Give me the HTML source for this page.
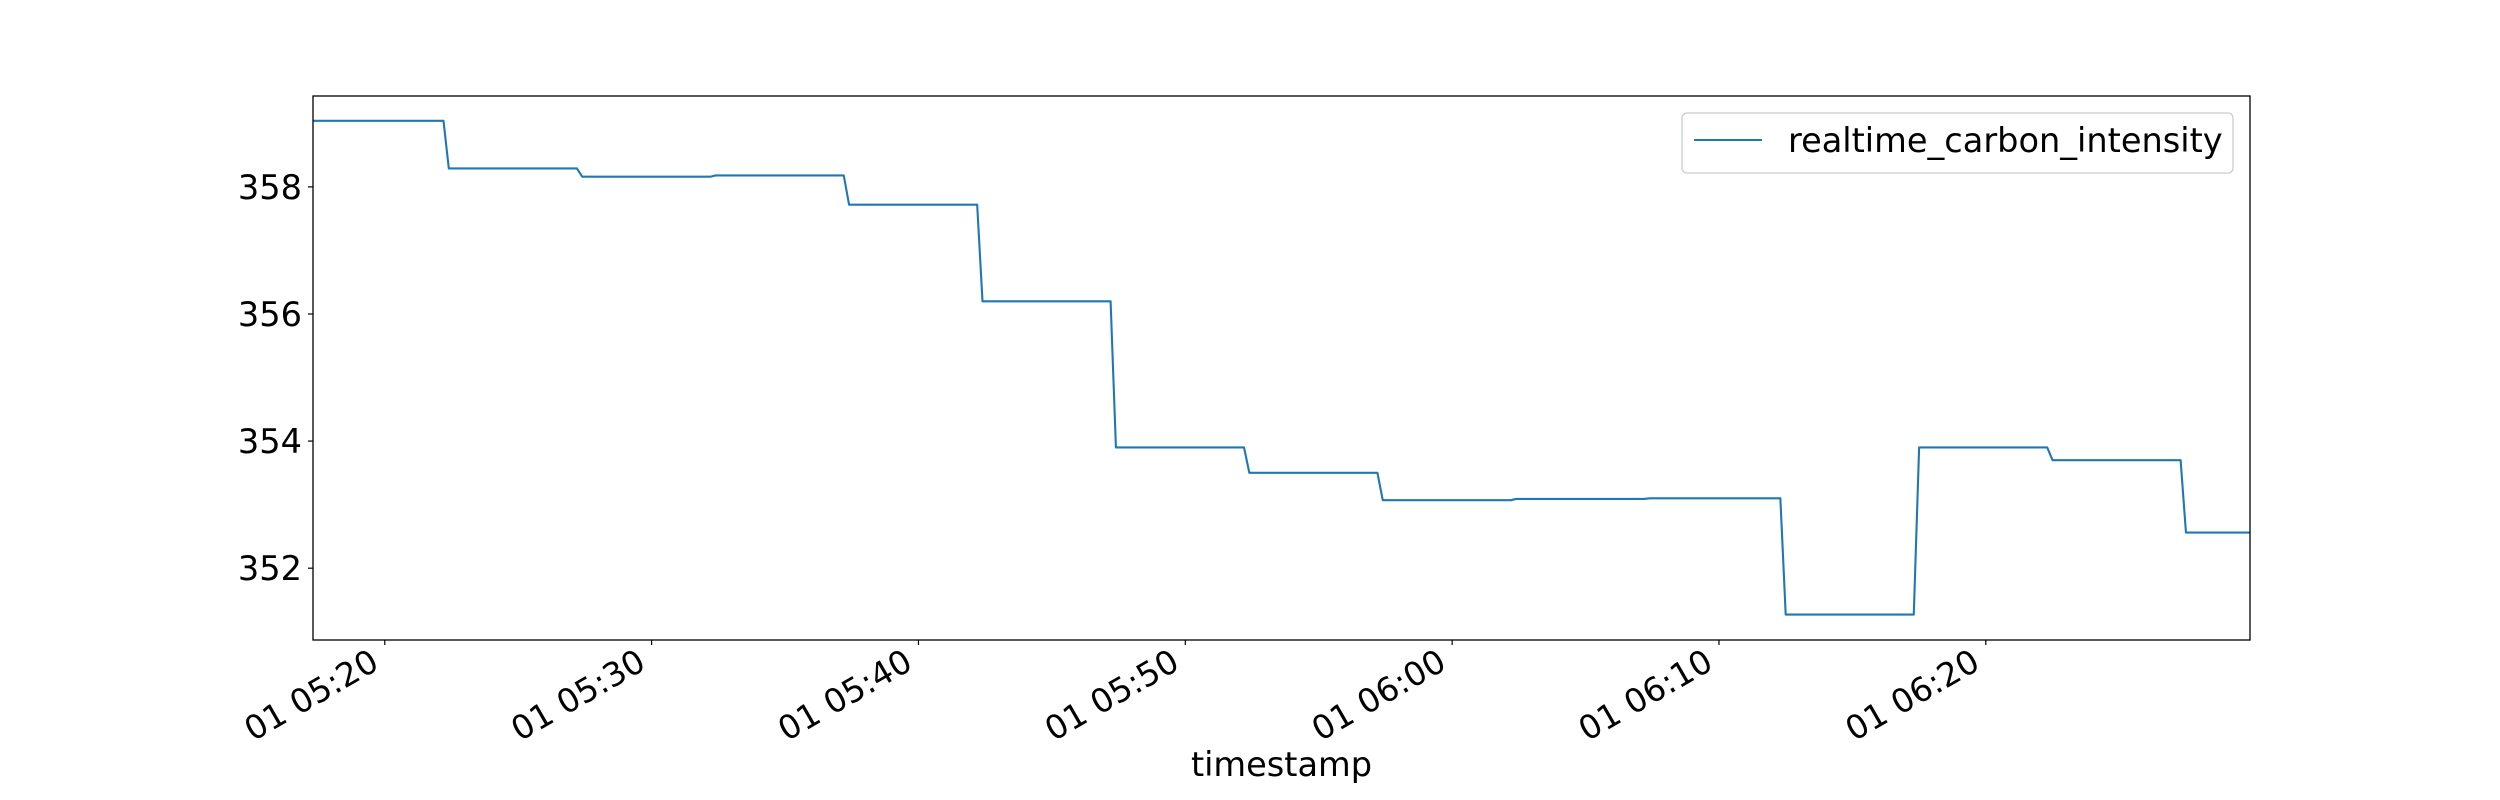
<!DOCTYPE html>
<html><head><meta charset="utf-8"><style>
html,body{margin:0;padding:0;background:#fff;}
svg{display:block;font-family:"DejaVu Sans","Liberation Sans",sans-serif;}
</style></head><body>
<svg id="chart" width="2500" height="800" viewBox="0 0 2500 800" xmlns="http://www.w3.org/2000/svg">
<rect x="0" y="0" width="2500" height="800" fill="#fff"/>
<g id="plot"></g>
</svg>
<script>
// time offsets in minutes relative to 05:20
const times = [-2.69, 2.2, 2.4, 7.2, 7.4, 12.2, 12.4, 17.2, 17.4, 22.2, 22.4, 27.2, 27.4, 32.2, 32.4, 37.2, 37.4, 42.2, 42.4, 47.2, 47.4, 52.3, 52.5, 57.3, 57.5, 62.3, 62.5, 67.3, 67.5, 69.9];
const values = [359.04, 359.04, 358.29, 358.29, 358.16, 358.16, 358.18, 358.18, 357.72, 357.72, 356.20, 356.20, 353.90, 353.90, 353.50, 353.50, 353.07, 353.07, 353.09, 353.09, 353.10, 353.10, 351.27, 351.27, 353.90, 353.90, 353.70, 353.70, 352.56, 352.56];
const yTicks = [352, 354, 356, 358];
const xTicks = [0, 10, 20, 30, 40, 50, 60];
const xTickLabels = ["01 05:20", "01 05:30", "01 05:40", "01 05:50", "01 06:00", "01 06:10", "01 06:20"];
const seriesName = "realtime_carbon_intensity";

const L = 313, R = 2250, T = 96, B = 640;
const xMin = -2.69, xMax = 69.9, yMin = 350.87, yMax = 359.43;
const xs = v => L + (v - xMin) / (xMax - xMin) * (R - L);
const ys = v => B - (v - yMin) / (yMax - yMin) * (B - T);
const NS = "http://www.w3.org/2000/svg";
const g = document.getElementById('plot');
function mk(tag, attrs, parent) {
  const e = document.createElementNS(NS, tag);
  for (const k in attrs) e.setAttribute(k, attrs[k]);
  (parent || g).appendChild(e);
  return e;
}
const pts = times.map((t, i) => xs(t).toFixed(2) + ',' + ys(values[i]).toFixed(2)).join(' ');
const line = mk('polyline', {points: pts, fill: 'none', stroke: '#1f77b4', 'stroke-width': 2.1, 'stroke-linejoin': 'round'});


const frame = mk('rect', {x: L, y: T, width: R - L, height: B - T, fill: 'none', stroke: '#000', 'stroke-width': 1.3});


yTicks.forEach(v => {
  const y = ys(v);
  const tk = mk('line', {x1: L, x2: L - 5, y1: y, y2: y, stroke: '#000', 'stroke-width': 1.2});
  
  
  const tx = mk('text', {x: L - 11, y: y + 12, 'text-anchor': 'end', 'font-size': 33.6, fill: '#000'});
  tx.textContent = String(v);
  
  
});
xTicks.forEach((v, i) => {
  const x = xs(v);
  const tk = mk('line', {x1: x, x2: x, y1: B, y2: B + 5, stroke: '#000', 'stroke-width': 1.2});
  
  
  const ax = x - 4, ay = 668;
  const tx = mk('text', {x: ax, y: ay, 'text-anchor': 'end', 'font-size': 33, fill: '#000', transform: 'rotate(-30 ' + ax + ' ' + ay + ')'});
  tx.textContent = xTickLabels[i];
  
  
});
const xt = mk('text', {x: (L + R) / 2, y: 776, 'text-anchor': 'middle', 'font-size': 33.6, fill: '#000'});
xt.textContent = 'timestamp';


const lg = mk('g', {});


const lb = mk('rect', {x: 1682, y: 113, width: 551, height: 60, rx: 5, fill: '#fff', 'fill-opacity': 0.8, stroke: '#ccc', 'stroke-width': 1.3}, lg);


const ll = mk('line', {x1: 1694, x2: 1762, y1: 140, y2: 140, stroke: '#1f77b4', 'stroke-width': 2.1}, lg);


const lt = mk('text', {x: 1788, y: 152, 'font-size': 33.6, fill: '#000'}, lg);
lt.textContent = seriesName;


</script>
</body></html>
